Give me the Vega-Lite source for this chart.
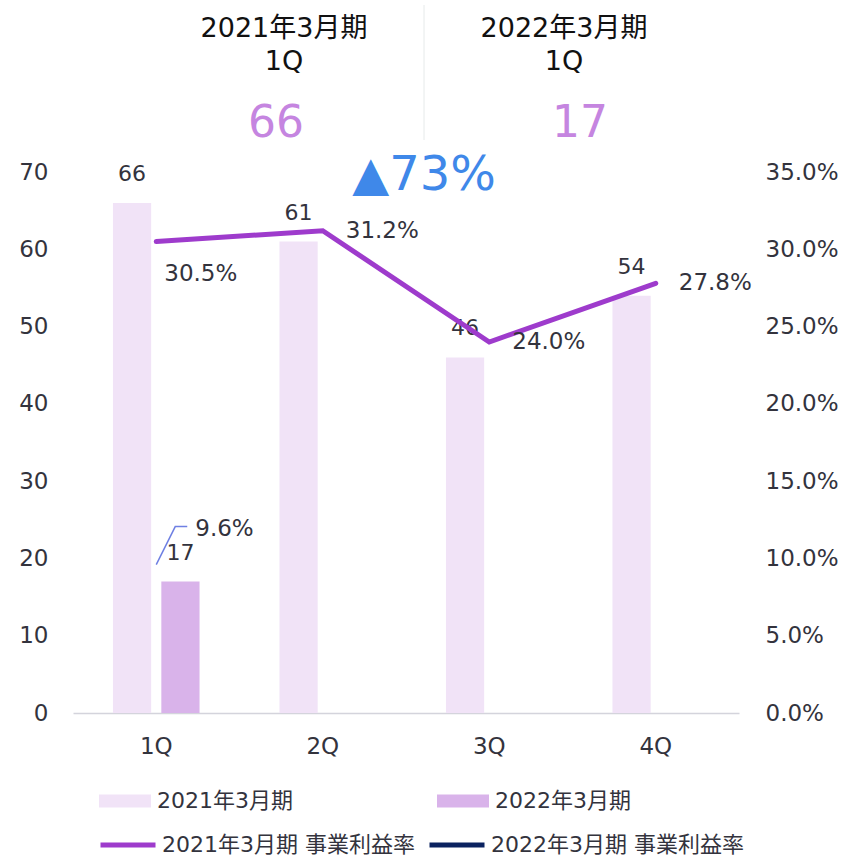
{
  "$schema": "https://vega.github.io/schema/vega-lite/v6.json",
  "padding": {"left": 18, "top": 0, "right": 5, "bottom": 5},
  "spacing": 0,
  "bounds": "flush",
  "config": {
    "view": {"stroke": null},
    "font": "DejaVu Sans, Noto Sans CJK JP",
    "axis": {"labelFont": "DejaVu Sans, Noto Sans CJK JP", "labelColor": "#33333d", "grid": false, "ticks": false, "title": null},
    "legend": {"labelFont": "DejaVu Sans, Noto Sans CJK JP", "labelColor": "#33333d", "labelLimit": 500},
    "text": {"font": "DejaVu Sans, Noto Sans CJK JP"}
  },
  "datasets": {
    "main": [
      {"quarter": "1Q", "year": "2021年3月期", "series": "2021年3月期 事業利益率", "sales": 66, "margin": 0.305},
      {"quarter": "2Q", "year": "2021年3月期", "series": "2021年3月期 事業利益率", "sales": 61, "margin": 0.312},
      {"quarter": "3Q", "year": "2021年3月期", "series": "2021年3月期 事業利益率", "sales": 46, "margin": 0.240},
      {"quarter": "4Q", "year": "2021年3月期", "series": "2021年3月期 事業利益率", "sales": 54, "margin": 0.278},
      {"quarter": "1Q", "year": "2022年3月期", "series": "2022年3月期 事業利益率", "sales": 17, "margin": 0.096}
    ],
    "header": [
      {"col": "2021", "row": "title", "text": "2021年3月期"},
      {"col": "2021", "row": "q", "text": "1Q"},
      {"col": "2021", "row": "value", "text": "66"},
      {"col": "2022", "row": "title", "text": "2022年3月期"},
      {"col": "2022", "row": "q", "text": "1Q"},
      {"col": "2022", "row": "value", "text": "17"},
      {"col": "mid", "row": "change", "text": "▲73%"}
    ]
  },
  "vconcat": [
    {
      "width": 560,
      "height": 172,
      "data": {"name": "header"},
      "encoding": {
        "x": {"field": "col", "type": "nominal", "scale": {"type": "point", "domain": ["2021", "mid", "2022"], "padding": 1, "align": 0.7536}, "axis": null},
        "y": {"field": "row", "type": "nominal", "scale": {"type": "point", "domain": ["title", "q", "value", "change"], "padding": 0.2917, "align": 1}, "axis": null}
      },
      "layer": [
        {
          "transform": [{"filter": "datum.row === 'change'"}],
          "mark": {"type": "rule", "color": "#e6eaea", "strokeWidth": 1, "yOffset": -23, "y2Offset": 16},
          "encoding": {"x": {"datum": "mid"}, "y": {"datum": "title"}, "y2": {"datum": "value"}}
        },
        {
          "transform": [{"filter": "datum.row === 'title'"}],
          "mark": {"type": "text", "fontSize": 27, "color": "#111111", "baseline": "middle", "dy": 1},
          "encoding": {"text": {"field": "text"}}
        },
        {
          "transform": [{"filter": "datum.row === 'q'"}],
          "mark": {"type": "text", "fontSize": 27, "color": "#111111", "baseline": "middle", "dy": -14},
          "encoding": {"text": {"field": "text"}}
        },
        {
          "transform": [{"filter": "datum.row === 'value' && datum.col === '2021'"}],
          "mark": {"type": "text", "fontSize": 44, "color": "#c585e0", "baseline": "middle", "dx": -8},
          "encoding": {"text": {"field": "text"}}
        },
        {
          "transform": [{"filter": "datum.row === 'value' && datum.col === '2022'"}],
          "mark": {"type": "text", "fontSize": 44, "color": "#c585e0", "baseline": "middle", "dx": 16},
          "encoding": {"text": {"field": "text"}}
        },
        {
          "transform": [{"filter": "datum.row === 'change'"}],
          "mark": {"type": "text", "fontSize": 48, "color": "#3f88e9", "baseline": "middle", "dy": 4},
          "encoding": {"text": {"field": "text"}}
        }
      ]
    },
    {
      "width": 666,
      "height": 541,
      "data": {"name": "main"},
      "encoding": {
        "x": {"field": "quarter", "type": "nominal", "sort": ["1Q", "2Q", "3Q", "4Q"],
              "scale": {"type": "band", "paddingInner": 0.48, "paddingOuter": 0.24},
              "axis": {"labelAngle": 0, "labelFontSize": 23, "labelPadding": 22, "domainColor": "#d4d4dc", "domainWidth": 1.5}}
      },
      "layer": [
        {
          "encoding": {
            "y": {"field": "sales", "type": "quantitative", "scale": {"domain": [0, 70]},
                  "axis": {"orient": "left", "domain": false, "values": [0, 10, 20, 30, 40, 50, 60, 70], "labelFontSize": 23, "labelPadding": 25}},
            "xOffset": {"field": "year", "type": "nominal", "scale": {"domain": ["2021年3月期", "2022年3月期"], "paddingInner": 0.21, "paddingOuter": 0}}
          },
          "layer": [
            {
              "mark": {"type": "bar"},
              "encoding": {
                "color": {"field": "year", "type": "nominal",
                          "scale": {"domain": ["2021年3月期", "2022年3月期"], "range": ["#f1e3f7", "#d9b3ea"]},
                          "legend": {"title": null, "orient": "none", "legendX": 26, "legendY": 603, "direction": "horizontal",
                                     "symbolType": "M-1,-0.25H1V0.25H-1Z", "symbolSize": 2704, "symbolStrokeWidth": 0,
                                     "labelFontSize": 22, "labelOffset": 6, "columnPadding": 144, "padding": 0}}
              }
            },
            {
              "mark": {"type": "text", "fontSize": 22, "color": "#33333d", "baseline": "alphabetic", "dy": -22},
              "encoding": {"text": {"field": "sales", "type": "quantitative"}}
            }
          ]
        },
        {
          "encoding": {
            "y": {"field": "margin", "type": "quantitative", "scale": {"domain": [0, 0.35]},
                  "axis": {"orient": "right", "domain": false, "format": ".1%", "values": [0, 0.05, 0.1, 0.15, 0.2, 0.25, 0.3, 0.35], "labelFontSize": 23, "labelPadding": 26}}
          },
          "layer": [
            {
              "transform": [{"filter": "datum.year === '2021年3月期'"}],
              "mark": {"type": "line", "strokeWidth": 5, "strokeCap": "round"},
              "encoding": {
                "color": {"field": "series", "type": "nominal",
                          "scale": {"domain": ["2021年3月期 事業利益率", "2022年3月期 事業利益率"], "range": ["#9e3bcc", "#0b2260"]},
                          "legend": {"title": null, "orient": "none", "legendX": 25, "legendY": 643, "direction": "horizontal",
                                     "symbolType": "stroke", "symbolSize": 3025, "symbolStrokeWidth": 5,
                                     "labelFontSize": 22, "labelOffset": 4, "columnPadding": 4, "padding": 0}}
              }
            },
            {
              "transform": [{"filter": "datum.year === '2021年3月期' && datum.quarter === '1Q'"}],
              "mark": {"type": "text", "fontSize": 23, "color": "#33333d", "align": "left", "baseline": "middle", "dx": 8, "dy": 32},
              "encoding": {"text": {"field": "margin", "type": "quantitative", "format": ".1%"}}
            },
            {
              "transform": [{"filter": "datum.year === '2021年3月期' && datum.quarter !== '1Q'"}],
              "mark": {"type": "text", "fontSize": 23, "color": "#33333d", "align": "left", "baseline": "middle", "dx": 23},
              "encoding": {"text": {"field": "margin", "type": "quantitative", "format": ".1%"}}
            },
            {
              "transform": [{"filter": "datum.year === '2022年3月期'"}],
              "mark": {"type": "text", "fontSize": 23, "color": "#33333d", "align": "left", "baseline": "middle", "dx": 39, "dy": -36},
              "encoding": {"text": {"field": "margin", "type": "quantitative", "format": ".1%"}}
            },
            {
              "transform": [{"filter": "datum.year === '2022年3月期'"}],
              "mark": {"type": "point", "shape": "M0,0L0.95,-1.9L1.55,-1.9", "size": 1600, "filled": false, "stroke": "#6f80e3", "strokeWidth": 1.5, "opacity": 1}
            }
          ]
        }
      ],
      "resolve": {"scale": {"y": "independent", "color": "independent"}}
    }
  ]
}
